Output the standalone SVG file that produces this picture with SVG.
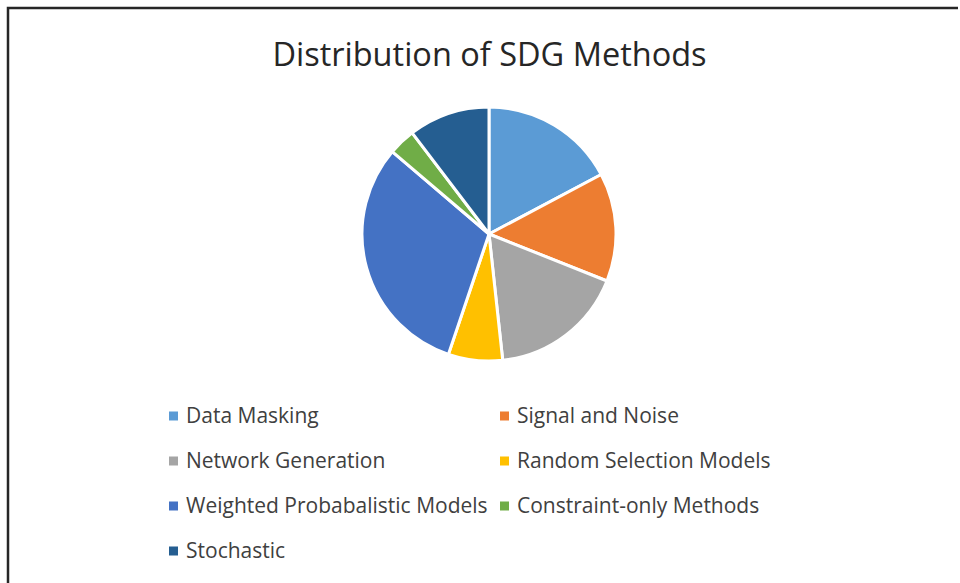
<svg xmlns="http://www.w3.org/2000/svg" width="960" height="583" viewBox="0 0 960 583">
<style>
.slice{stroke:#fff;stroke-width:3;stroke-linejoin:round}
.lg{font-family:"Open Sans","Liberation Sans",sans-serif;font-size:21px;fill:#404040}
.title{font-family:"Open Sans","Liberation Sans",sans-serif;font-size:32.5px;fill:#262626}
</style>
<rect x="0" y="0" width="960" height="583" fill="#fff"/>
<path d="M8,583 V8 H958" fill="none" stroke="#262626" stroke-width="2.5"/>
<text class="title" x="489.5" y="65.5" text-anchor="middle">Distribution of SDG Methods</text>
<g id="pie">
<path id="s-data-masking" class="slice" fill="#5B9BD5" d="M489,234 L489,107 A127,127 0 0 1 601.22,174.51 Z"/>
<path id="s-signal-noise" class="slice" fill="#ED7D31" d="M489,234 L601.22,174.51 A127,127 0 0 1 606.98,281 Z"/>
<path id="s-network" class="slice" fill="#A5A5A5" d="M489,234 L606.98,281 A127,127 0 0 1 502.73,360.26 Z"/>
<path id="s-random" class="slice" fill="#FFC000" d="M489,234 L502.73,360.26 A127,127 0 0 1 448.45,354.35 Z"/>
<path id="s-weighted" class="slice" fill="#4472C4" d="M489,234 L448.45,354.35 A127,127 0 0 1 392.25,151.73 Z"/>
<path id="s-constraint" class="slice" fill="#70AD47" d="M489,234 L392.25,151.73 A127,127 0 0 1 412.15,132.88 Z"/>
<path id="s-stochastic" class="slice" fill="#255E91" d="M489,234 L412.15,132.88 A127,127 0 0 1 489,107 Z"/>
</g>
<g id="legend">
<g id="lg-data-masking"><rect x="169" y="411.5" width="9" height="9" fill="#5B9BD5"/><text class="lg" x="186" y="423.3">Data Masking</text></g>
<g id="lg-signal-noise"><rect x="500" y="411.5" width="9" height="9" fill="#ED7D31"/><text class="lg" x="517" y="423.3">Signal and Noise</text></g>
<g id="lg-network"><rect x="169" y="456.5" width="9" height="9" fill="#A5A5A5"/><text class="lg" x="186" y="468.3">Network Generation</text></g>
<g id="lg-random"><rect x="500" y="456.5" width="9" height="9" fill="#FFC000"/><text class="lg" x="517" y="468.3">Random Selection Models</text></g>
<g id="lg-weighted"><rect x="169" y="501.5" width="9" height="9" fill="#4472C4"/><text class="lg" x="186" y="513.3">Weighted Probabalistic Models</text></g>
<g id="lg-constraint"><rect x="500" y="501.5" width="9" height="9" fill="#70AD47"/><text class="lg" x="517" y="513.3">Constraint-only Methods</text></g>
<g id="lg-stochastic"><rect x="169" y="546.5" width="9" height="9" fill="#255E91"/><text class="lg" x="186" y="558.3">Stochastic</text></g>
</g>
</svg>
